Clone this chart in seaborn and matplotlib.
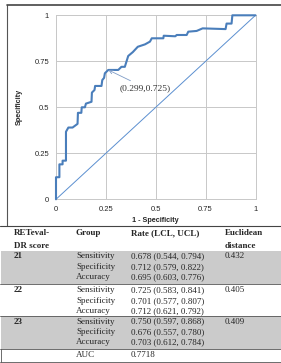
import pandas as pd
import matplotlib.pyplot as plt
import seaborn as sns
from matplotlib.patches import Rectangle

# ROC curve
one_minus_spec = [0, 0, 0.017, 0.017, 0.033, 0.033, 0.05, 0.05,
                  0.062, 0.083, 0.108, 0.11, 0.127, 0.129, 0.145, 0.15,
                  0.178, 0.18, 0.193, 0.196, 0.228, 0.232, 0.241, 0.245,
                  0.262, 0.312, 0.328, 0.345, 0.362, 0.385, 0.41, 0.446,
                  0.471, 0.48, 0.538, 0.54, 0.598, 0.605, 0.655, 0.663,
                  0.705, 0.735, 0.85, 0.855, 0.88, 0.884, 1.0]
specificity = [0, 0.12, 0.12, 0.19, 0.19, 0.21, 0.21, 0.367,
               0.39, 0.39, 0.41, 0.47, 0.47, 0.5, 0.5, 0.52,
               0.53, 0.58, 0.594, 0.616, 0.616, 0.648, 0.66, 0.685,
               0.703, 0.703, 0.72, 0.72, 0.779, 0.80, 0.829, 0.842,
               0.857, 0.875, 0.875, 0.889, 0.886, 0.893, 0.893, 0.911,
               0.915, 0.929, 0.925, 0.955, 0.955, 1.0, 1.0]
diag = [0, 1]
ticks = [0, 0.25, 0.5, 0.75, 1]
tick_labels = ["0", "0.25", "0.5", "0.75", "1"]
cut_point = (0.262, 0.703)
cut_label = "(0.299,0.725)"

# table contents
scores = ["21", "22", "23"]
groups = ["Sensitivity", "Specificity", "Accuracy"]
rates = [["0.678 (0.544, 0.794)", "0.712 (0.579, 0.822)", "0.695 (0.603, 0.776)"],
         ["0.725 (0.583, 0.841)", "0.701 (0.577, 0.807)", "0.712 (0.621, 0.792)"],
         ["0.750 (0.597, 0.868)", "0.676 (0.557, 0.780)", "0.703 (0.612, 0.784)"]]
distances = ["0.432", "0.405", "0.409"]
auc = "0.7718"

sns.set_style("white")
W, H = 281, 363
fig = plt.figure(figsize=(W / 100, H / 100), dpi=100)

# overlay in pixel coords for frame + table
ov = fig.add_axes([0, 0, 1, 1])
ov.set_xlim(0, W)
ov.set_ylim(H, 0)
ov.axis("off")

ov.plot([7, 7], [5, 226], color="#555555", lw=0.8)
ov.plot([7, W], [5, 5], color="#444444", lw=1.2)
ov.plot([0, W], [226, 226], color="#444444", lw=0.8)

serif = "Liberation Serif"
fs = 6.5
cols = [14, 76, 131, 225]

# header
ov.text(cols[0], 233, "RETeval-", fontsize=fs, fontweight="bold", family=serif, va="center")
ov.text(cols[0], 245.5, "DR score", fontsize=fs, fontweight="bold", family=serif, va="center")
ov.text(cols[1], 233, "Group", fontsize=fs, fontweight="bold", family=serif, va="center")
ov.text(cols[2], 233, "Rate (LCL, UCL)", fontsize=fs, fontweight="bold", family=serif, va="center")
ov.text(cols[3], 233, "Euclidean", fontsize=fs, fontweight="bold", family=serif, va="center")
ov.text(cols[3], 245.5, "distance", fontsize=fs, fontweight="bold", family=serif, va="center")

tops = [251, 285, 316]
bottoms = [284, 316, 349]
for i, s in enumerate(scores):
    top, bot = tops[i], bottoms[i]
    if i != 1:
        ov.add_patch(Rectangle((1, top), W - 1, bot - top, color="#cbcbcb", lw=0))
    ov.text(cols[0], top + 5.5, s, fontsize=fs, fontweight="bold", family=serif, va="center")
    ov.text(cols[3], top + 5.5, distances[i], fontsize=fs, family=serif, va="center")
    for j, g in enumerate(groups):
        y = top + 5.5 + 10.3 * j
        ov.text(cols[1], y, g, fontsize=fs, family=serif, va="center")
        ov.text(cols[2], y, rates[i][j], fontsize=fs, family=serif, va="center")
    ov.plot([0, W], [bot, bot], color="#555555", lw=0.6)

ov.text(cols[1], 355, "AUC", fontsize=fs, family=serif, va="center")
ov.text(cols[2], 355, auc, fontsize=fs, family=serif, va="center")
ov.plot([0, W], [362, 362], color="#555555", lw=0.6)
ov.plot([1, 1], [349, 362], color="#555555", lw=0.6)

# ROC plot
ax = fig.add_axes([56 / W, 1 - 199.3 / H, 199.5 / W, 184 / H])
df = pd.DataFrame({"x": one_minus_spec, "y": specificity})
sns.lineplot(data=df, x="x", y="y", sort=False, estimator=None, ax=ax,
             color="#4a7ebb", lw=1.5, zorder=3, clip_on=False)
sns.lineplot(x=diag, y=diag, estimator=None, ax=ax, color="#5b8fd0", lw=0.7, zorder=2,
             clip_on=False)
ax.set_xlim(0, 1)
ax.set_ylim(0, 1)
ax.set_xticks(ticks)
ax.set_yticks(ticks)
ax.set_xticklabels(tick_labels, fontsize=5.5, family="Liberation Sans")
ax.set_yticklabels(tick_labels, fontsize=5.5, family="Liberation Sans")
ax.tick_params(length=0, pad=5)
ax.grid(True, color="#c8c8c8", lw=0.7)
for sp in ax.spines.values():
    sp.set_color("#c8c8c8")
    sp.set_linewidth(0.7)
ax.set_xlabel("1 - Specificity", fontsize=5.2, fontweight="bold", family="Liberation Sans", labelpad=3)
ax.set_ylabel("Specificity", fontsize=5.2, fontweight="bold", family="Liberation Sans", labelpad=8)
ax.annotate(cut_label, xy=cut_point, xytext=(0.32, 0.605), fontsize=6.8, family=serif,
            va="center", color="#333333",
            arrowprops=dict(arrowstyle="->", color="#7f9cc6", lw=0.6, shrinkA=0, shrinkB=0))

fig.savefig("out.png", dpi=100)
